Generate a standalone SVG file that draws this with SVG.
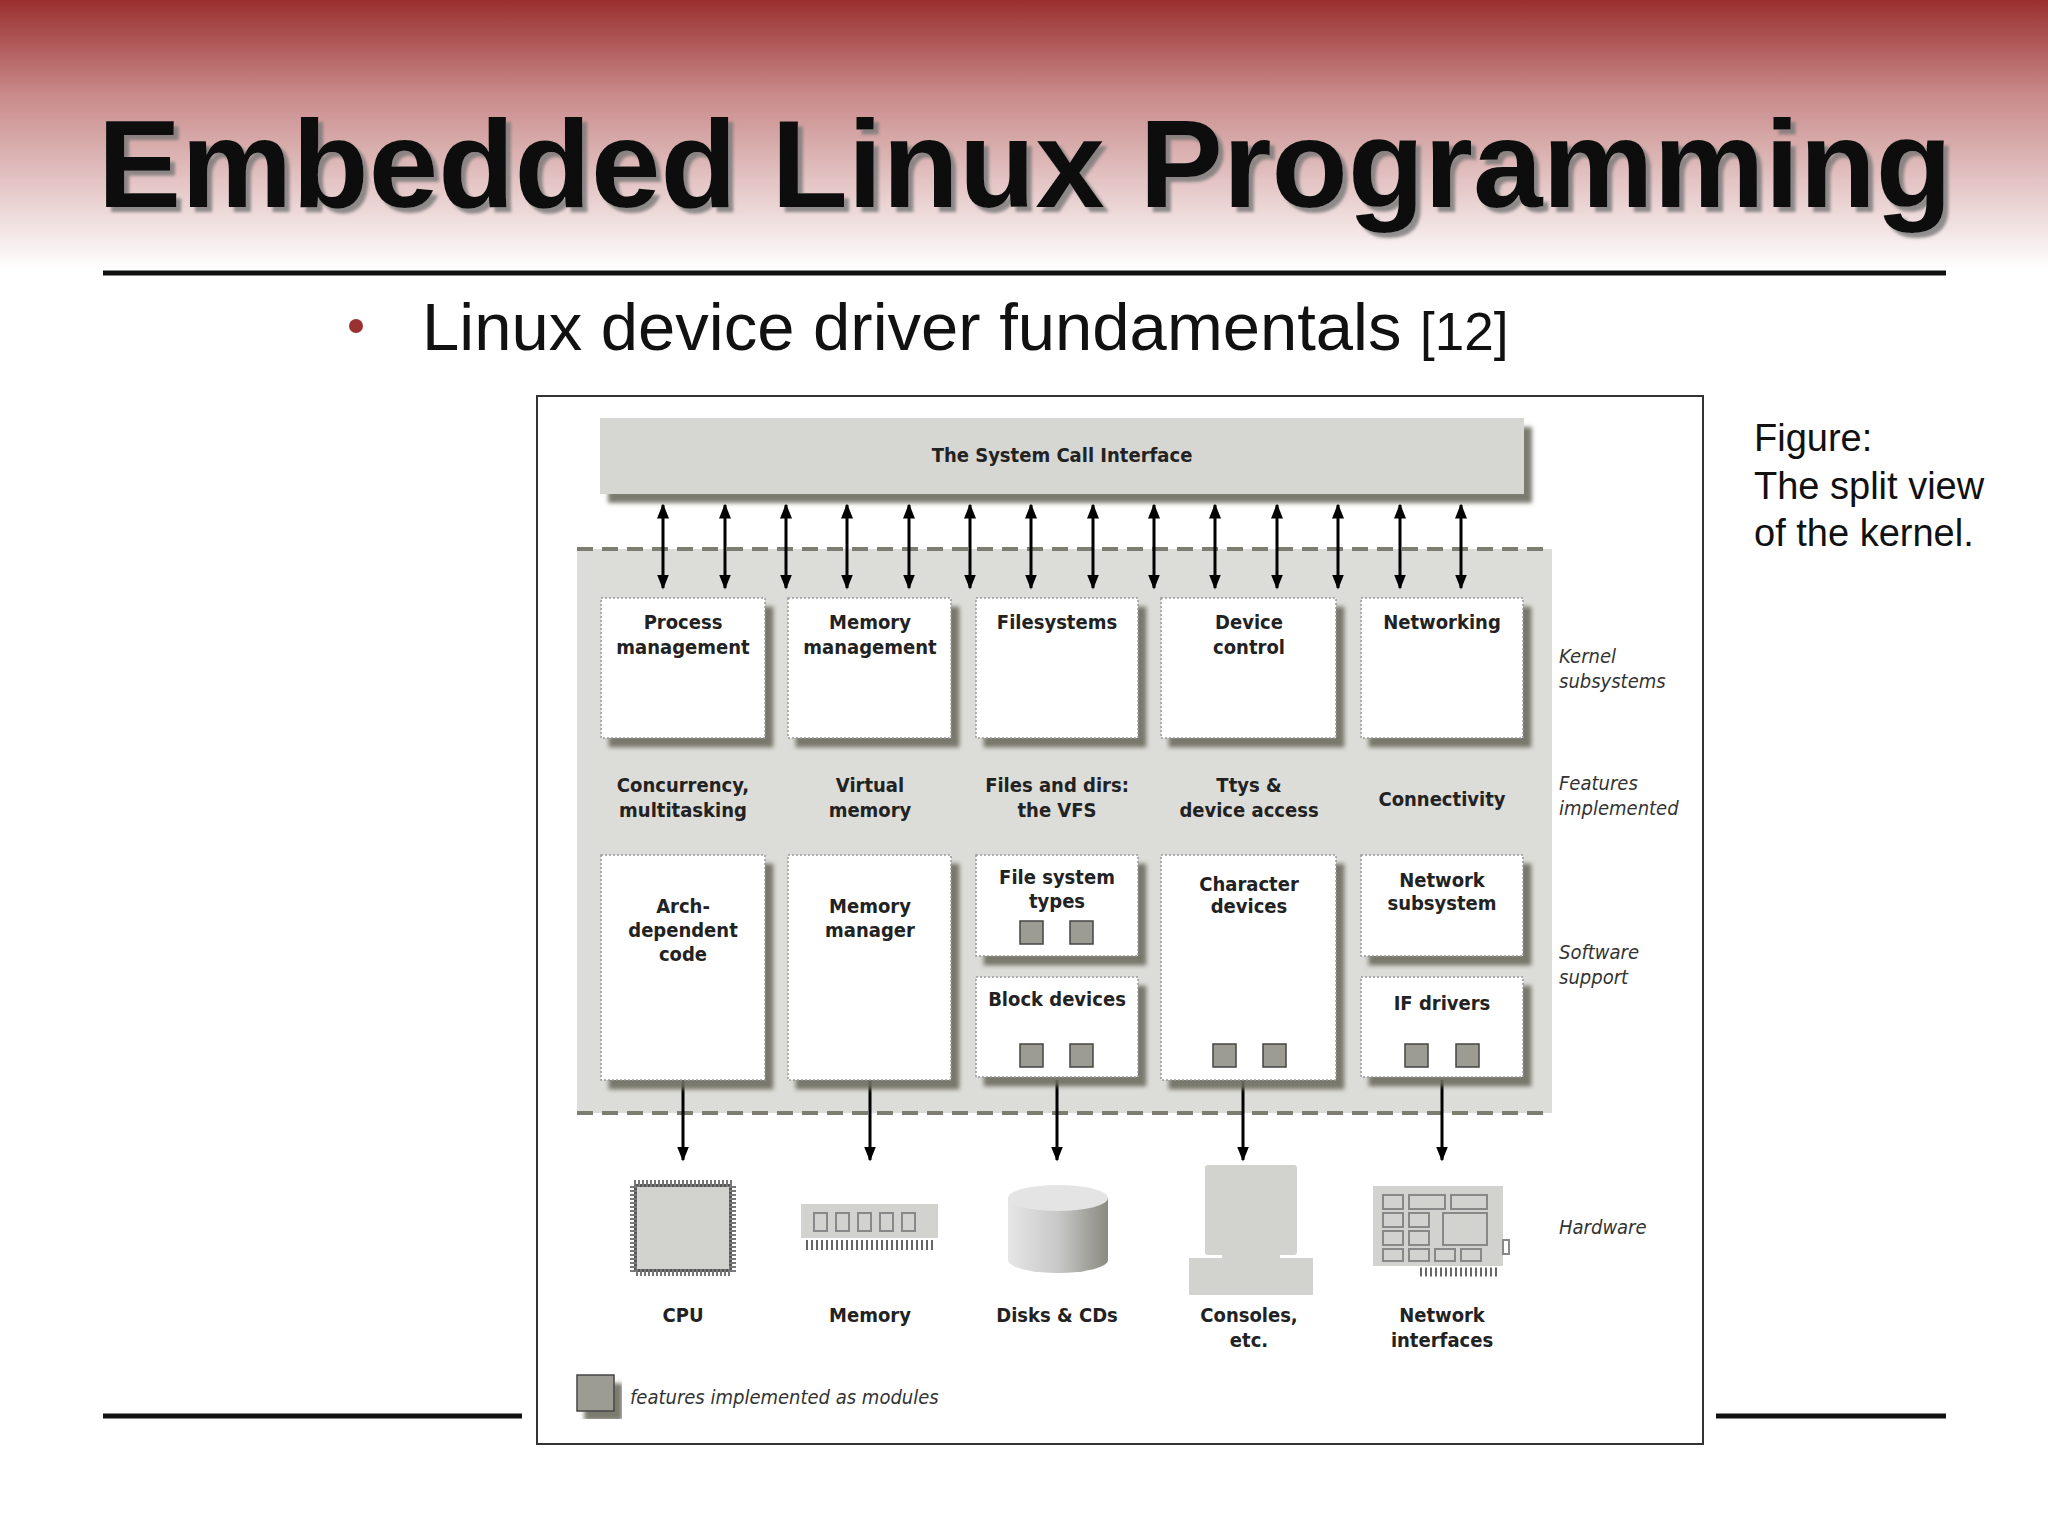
<svg xmlns="http://www.w3.org/2000/svg" width="2048" height="1536" viewBox="0 0 2048 1536">
<defs>
<linearGradient id="bg" x1="0" y1="0" x2="0" y2="1"><stop offset="0" stop-color="#9a2f2f"/><stop offset="0.35" stop-color="#c98a8a"/><stop offset="1" stop-color="#ffffff"/></linearGradient>
<marker id="ah" viewBox="0 0 10 10" refX="9" refY="5" markerWidth="5" markerHeight="5" orient="auto-start-reverse"><path d="M0,1 L10,5 L0,9 z" fill="#000"/></marker>
<filter id="sh" x="-10%" y="-10%" width="130%" height="130%"><feDropShadow dx="8" dy="9" stdDeviation="2" flood-color="#6d6d60" flood-opacity="0.9"/></filter>
<filter id="tsh" x="-5%" y="-10%" width="110%" height="130%"><feDropShadow dx="5" dy="5" stdDeviation="1.5" flood-color="#777" flood-opacity="0.8"/></filter>
<linearGradient id="cyl" x1="0" x2="1"><stop offset="0" stop-color="#e6e6e6"/><stop offset="0.5" stop-color="#c8c8c8"/><stop offset="1" stop-color="#8a8a80"/></linearGradient>
</defs>
<style>
.t{font-family:"DejaVu Sans Condensed","Liberation Sans Narrow","Liberation Sans",sans-serif;font-stretch:condensed;font-size:20px;fill:#222;text-anchor:middle;font-weight:bold}
.r{font-family:"DejaVu Sans Condensed","Liberation Sans Narrow","Liberation Sans",sans-serif;font-stretch:condensed;font-size:20px;fill:#333;font-style:italic}
.box{fill:#fff;stroke:#999;stroke-width:1.5;stroke-dasharray:2 2;filter:url(#sh)}
.mod{fill:#9c9c92;stroke:#444;stroke-width:1.5}
.arr{stroke:#000;stroke-width:3;marker-end:url(#ah)}
.arr2{stroke:#000;stroke-width:3;marker-end:url(#ah);marker-start:url(#ah)}
.hw{fill:#d2d2cf}
</style>
<rect width="2048" height="1536" fill="#fff"/>
<rect width="2048" height="270" fill="url(#bg)"/>
<text x="1025" y="207" font-family="Liberation Sans,Arial,sans-serif" font-weight="bold" font-size="125" fill="#111" text-anchor="middle" filter="url(#tsh)">Embedded Linux Programming</text>
<line x1="103" y1="273" x2="1946" y2="273" stroke="#111" stroke-width="5"/>
<circle cx="356" cy="326" r="7" fill="#9a3030"/>
<text x="422" y="350" font-family="Liberation Sans,Arial,sans-serif" font-size="67" fill="#111">Linux device driver fundamentals <tspan font-size="53">[12]</tspan></text>
<g font-family="Liberation Sans,Arial,sans-serif" font-size="38" fill="#111">
<text x="1754" y="451">Figure:</text><text x="1754" y="499">The split view</text><text x="1754" y="546">of the kernel.</text>
</g>
<line x1="103" y1="1416" x2="522" y2="1416" stroke="#111" stroke-width="5"/>
<line x1="1716" y1="1416" x2="1946" y2="1416" stroke="#111" stroke-width="5"/>
<rect x="537" y="396" width="1166" height="1048" fill="#fff" stroke="#333" stroke-width="2"/>

<rect x="577" y="549" width="975" height="564" fill="#dcdcd8"/>
<line x1="577" y1="549" x2="1552" y2="549" stroke="#7d7d72" stroke-width="4" stroke-dasharray="16 9"/>
<line x1="577" y1="1113" x2="1552" y2="1113" stroke="#7d7d72" stroke-width="4" stroke-dasharray="16 9"/>

<g id="syscall"><rect x="600" y="418" width="924" height="76" fill="#d6d6d2" filter="url(#sh)"/><text class="t" x="1062" y="462" fill="#444">The System Call Interface</text></g>

<g id="connectors">
<line class="arr2" x1="663" y1="505" x2="663" y2="588"/><line class="arr2" x1="725" y1="505" x2="725" y2="588"/>
<line class="arr2" x1="786" y1="505" x2="786" y2="588"/><line class="arr2" x1="847" y1="505" x2="847" y2="588"/>
<line class="arr2" x1="909" y1="505" x2="909" y2="588"/><line class="arr2" x1="970" y1="505" x2="970" y2="588"/>
<line class="arr2" x1="1031" y1="505" x2="1031" y2="588"/><line class="arr2" x1="1093" y1="505" x2="1093" y2="588"/>
<line class="arr2" x1="1154" y1="505" x2="1154" y2="588"/><line class="arr2" x1="1215" y1="505" x2="1215" y2="588"/>
<line class="arr2" x1="1277" y1="505" x2="1277" y2="588"/><line class="arr2" x1="1338" y1="505" x2="1338" y2="588"/>
<line class="arr2" x1="1400" y1="505" x2="1400" y2="588"/><line class="arr2" x1="1461" y1="505" x2="1461" y2="588"/>
<line class="arr" x1="683" y1="1080" x2="683" y2="1160"/><line class="arr" x1="870" y1="1080" x2="870" y2="1160"/>
<line class="arr" x1="1057" y1="1080" x2="1057" y2="1160"/><line class="arr" x1="1243" y1="1080" x2="1243" y2="1160"/>
<line class="arr" x1="1442" y1="1080" x2="1442" y2="1160"/>
</g>

<g id="proc"><rect class="box" x="601" y="598" width="164" height="140"/><text class="t" x="683" y="629">Process</text><text class="t" x="683" y="654">management</text></g>
<g id="mem"><rect class="box" x="788" y="598" width="163" height="140"/><text class="t" x="870" y="629">Memory</text><text class="t" x="870" y="654">management</text></g>
<g id="fs"><rect class="box" x="976" y="598" width="162" height="140"/><text class="t" x="1057" y="629">Filesystems</text></g>
<g id="dev"><rect class="box" x="1161" y="598" width="175" height="140"/><text class="t" x="1249" y="629">Device</text><text class="t" x="1249" y="654">control</text></g>
<g id="net"><rect class="box" x="1361" y="598" width="162" height="140"/><text class="t" x="1442" y="629">Networking</text></g>

<g id="features">
<text class="t" x="683" y="792">Concurrency,</text><text class="t" x="683" y="817">multitasking</text>
<text class="t" x="870" y="792">Virtual</text><text class="t" x="870" y="817">memory</text>
<text class="t" x="1057" y="792">Files and dirs:</text><text class="t" x="1057" y="817">the VFS</text>
<text class="t" x="1249" y="792">Ttys &amp;</text><text class="t" x="1249" y="817">device access</text>
<text class="t" x="1442" y="806">Connectivity</text>
</g>

<g id="arch"><rect class="box" x="601" y="855" width="164" height="225"/><text class="t" x="683" y="913">Arch-</text><text class="t" x="683" y="937">dependent</text><text class="t" x="683" y="961">code</text></g>
<g id="memmgr"><rect class="box" x="788" y="855" width="163" height="225"/><text class="t" x="870" y="913">Memory</text><text class="t" x="870" y="937">manager</text></g>
<g id="fstypes"><rect class="box" x="976" y="855" width="162" height="101"/><text class="t" x="1057" y="884">File system</text><text class="t" x="1057" y="908">types</text><rect class="mod" x="1020" y="921" width="23" height="23"/><rect class="mod" x="1070" y="921" width="23" height="23"/></g>
<g id="block"><rect class="box" x="976" y="977" width="162" height="100"/><text class="t" x="1057" y="1006">Block devices</text><rect class="mod" x="1020" y="1044" width="23" height="23"/><rect class="mod" x="1070" y="1044" width="23" height="23"/></g>
<g id="chr"><rect class="box" x="1161" y="855" width="175" height="225"/><text class="t" x="1249" y="891">Character</text><text class="t" x="1249" y="913">devices</text><rect class="mod" x="1213" y="1044" width="23" height="23"/><rect class="mod" x="1263" y="1044" width="23" height="23"/></g>
<g id="netsub"><rect class="box" x="1361" y="855" width="162" height="101"/><text class="t" x="1442" y="887">Network</text><text class="t" x="1442" y="910">subsystem</text></g>
<g id="ifdrv"><rect class="box" x="1361" y="977" width="162" height="100"/><text class="t" x="1442" y="1010">IF drivers</text><rect class="mod" x="1405" y="1044" width="23" height="23"/><rect class="mod" x="1456" y="1044" width="23" height="23"/></g>

<g id="labels">
<text class="r" x="1559" y="663">Kernel</text><text class="r" x="1559" y="688">subsystems</text>
<text class="r" x="1559" y="790">Features</text><text class="r" x="1559" y="815">implemented</text>
<text class="r" x="1559" y="959">Software</text><text class="r" x="1559" y="984">support</text>
<text class="r" x="1559" y="1234">Hardware</text>
</g>

<g id="cpu">
<rect x="634" y="1184" width="98" height="88" fill="#555" stroke="#777" stroke-width="8" stroke-dasharray="2 2"/>
<rect x="637" y="1187" width="92" height="82" class="hw"/>
<text class="t" x="683" y="1322">CPU</text></g>
<g id="memory">
<rect x="801" y="1204" width="137" height="34" class="hw"/>
<g fill="none" stroke="#888" stroke-width="2"><rect x="814" y="1213" width="13" height="18"/><rect x="836" y="1213" width="13" height="18"/><rect x="858" y="1213" width="13" height="18"/><rect x="880" y="1213" width="13" height="18"/><rect x="902" y="1213" width="13" height="18"/></g>
<line x1="806" y1="1245" x2="935" y2="1245" stroke="#666" stroke-width="10" stroke-dasharray="2 3"/>
<text class="t" x="870" y="1322">Memory</text></g>
<g id="disk">
<path d="M1008,1198 L1008,1260 A50,13 0 0 0 1108,1260 L1108,1198 Z" fill="url(#cyl)"/>
<ellipse cx="1058" cy="1198" rx="50" ry="13" fill="#e4e4e4"/>
<text class="t" x="1057" y="1322">Disks &amp; CDs</text></g>
<g id="console">
<rect x="1205" y="1165" width="92" height="90" rx="3" class="hw"/>
<rect x="1222" y="1252" width="58" height="12" class="hw"/>
<rect x="1189" y="1258" width="124" height="37" class="hw"/>
<text class="t" x="1249" y="1322">Consoles,</text><text class="t" x="1249" y="1347">etc.</text></g>
<g id="netcard">
<rect x="1373" y="1186" width="130" height="80" class="hw"/>
<g fill="none" stroke="#888" stroke-width="2"><rect x="1383" y="1195" width="20" height="14"/><rect x="1409" y="1195" width="36" height="14"/><rect x="1451" y="1195" width="36" height="14"/><rect x="1383" y="1213" width="20" height="14"/><rect x="1409" y="1213" width="20" height="14"/><rect x="1443" y="1213" width="44" height="32"/><rect x="1383" y="1231" width="20" height="14"/><rect x="1409" y="1231" width="20" height="14"/><rect x="1383" y="1249" width="20" height="12"/><rect x="1409" y="1249" width="20" height="12"/><rect x="1435" y="1249" width="20" height="12"/><rect x="1461" y="1249" width="20" height="12"/><rect x="1503" y="1240" width="6" height="14"/></g>
<line x1="1420" y1="1272" x2="1500" y2="1272" stroke="#666" stroke-width="9" stroke-dasharray="2 3"/>
<text class="t" x="1442" y="1322">Network</text><text class="t" x="1442" y="1347">interfaces</text></g>

<g id="legend"><rect x="577" y="1375" width="37" height="36" class="mod" filter="url(#sh)"/><text class="r" x="630" y="1404">features implemented as modules</text></g>
</svg>
